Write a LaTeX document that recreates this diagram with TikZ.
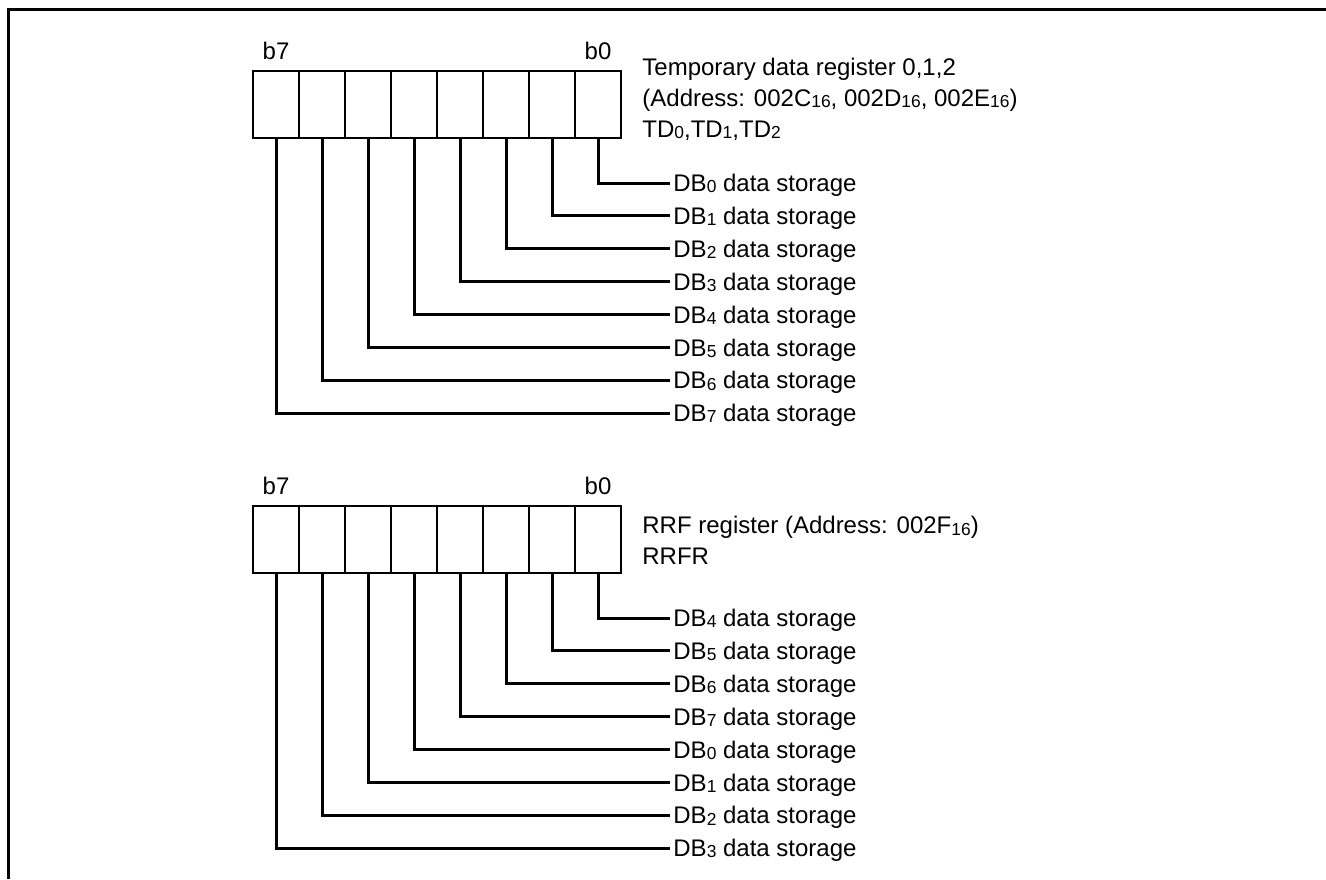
\documentclass[tikz,border=0pt]{standalone}
\usepackage{fontspec}
\setmainfont{Liberation Sans}
\usetikzlibrary{positioning}

\newcommand{\regsub}[1]{\raisebox{-0.6pt}{\fontsize{8.7}{10}\selectfont #1}}

\begin{document}
\begin{tikzpicture}[
    x=0.5pt, y=-0.5pt,
    font=\fontsize{12}{15.5}\selectfont,
    cell/.style   = {rectangle, draw, line width=0.7pt,
                     minimum width=23pt, minimum height=33.5pt,
                     inner sep=0pt, outer sep=0pt},
    divider/.style= {line width=1.4pt},
    bitlbl/.style = {anchor=base, inner sep=0pt},
    dblbl/.style  = {anchor=west, inner sep=1.5pt, text depth=0pt},
    regtxt/.style = {anchor=north west, align=left, inner sep=0pt},
    lead/.style   = {line width=1.5pt}
]
\useasboundingbox (0,0) rectangle (1326,879);

%% ---- outer frame (right and bottom edges off the page) ----
\draw[line width=1.5pt] (8,879) -- (8,9) -- (1326,9);

%% =============================================
%% TEMPORARY DATA REGISTER
%% =============================================
\foreach \i in {0,...,7}
  \node[cell] (td\i) at ({598-46*\i}, 104.5) {};
\foreach \i in {0,...,6}
  \draw[divider] (td\i.north west) -- (td\i.south west);
\node[bitlbl] (tdb7) at ([yshift=6pt]td7.north) {b7};
\node[bitlbl] (tdb0) at ([yshift=6pt]td0.north) {b0};

\node[regtxt] (tdname) at (642, 58)
    {Temporary data register 0,1,2\\
     (Address: 002C\regsub{16}, 002D\regsub{16}, 002E\regsub{16})\\
     TD\regsub{0},TD\regsub{1},TD\regsub{2}};

%% leads: bit i -> DBi
\foreach \i in {0,...,7} {
  \node[dblbl] (tdl\i) at (670, {183+32.86*\i}) {DB\regsub{\i} data storage};
  \draw[lead] (td\i.south) |- (tdl\i.west);
}

%% =============================================
%% RRF REGISTER
%% =============================================
\foreach \i in {0,...,7}
  \node[cell] (rr\i) at ({598-46*\i}, 539.5) {};
\foreach \i in {0,...,6}
  \draw[divider] (rr\i.north west) -- (rr\i.south west);
\node[bitlbl] (rrb7) at ([yshift=6pt]rr7.north) {b7};
\node[bitlbl] (rrb0) at ([yshift=6pt]rr0.north) {b0};

\node[regtxt] (rrname) at (642, 516)
    {RRF register (Address: 002F\regsub{16})\\
     RRFR};

%% leads: bit i -> DB(i+4 mod 8)
\foreach \i in {0,...,7} {
  \pgfmathtruncatemacro{\k}{mod(\i+4,8)}
  \node[dblbl] (rrl\i) at (670, {618+32.86*\i}) {DB\regsub{\k} data storage};
  \draw[lead] (rr\i.south) |- (rrl\i.west);
}

\end{tikzpicture}
\end{document}
